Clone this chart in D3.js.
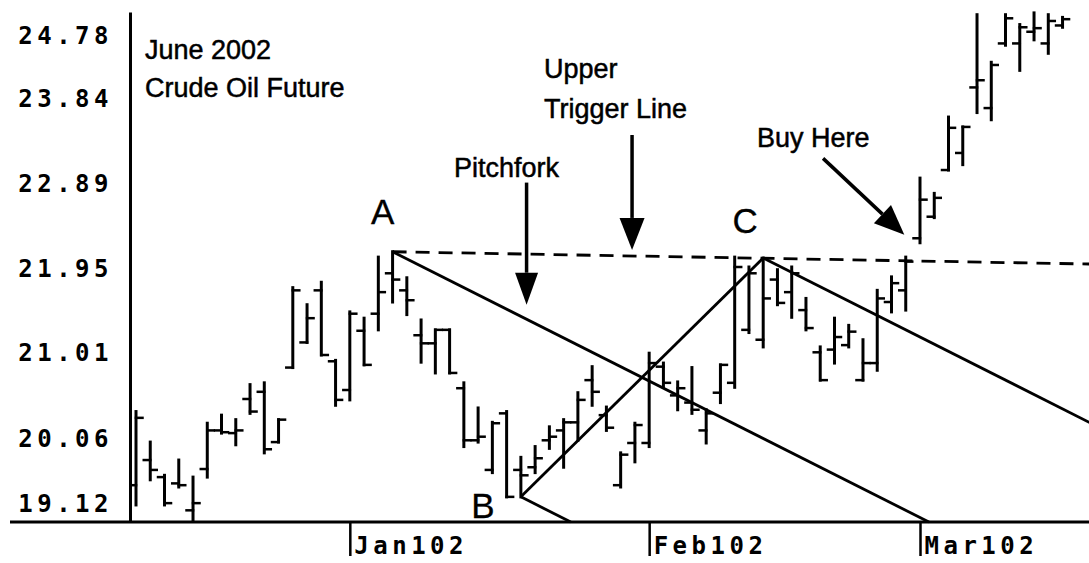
<!DOCTYPE html>
<html>
<head>
<meta charset="utf-8">
<script src="https://cdn.jsdelivr.net/npm/d3@7"></script>
<style>
  html, body { margin: 0; padding: 0; background: #fff; }
  svg { display: block; }
  .ann { font-family: "Liberation Sans", Arial, sans-serif; fill: #000; stroke: #000; stroke-width: 0.5px; }
  .axlbl { font-family: "DejaVu Sans Mono", monospace; font-weight: bold; font-size: 24px; letter-spacing: 4.5px; fill: #000; }
</style>
</head>
<body>
<svg id="chart" width="1089" height="563"></svg>
<script>
// ---- data (trading-day index 0 = 10 Dec 2001) ----
const opens  = [19.53,19.81,19.62,19.55,19.25,19.71,20.14,20.11,20.49,20.57,20.01,20.84,21.12,21.70,20.91,20.59,21.25,21.44,21.89,21.70,21.20,21.11,21.26,20.61,20.03,19.70,20.33,19.70,19.73,20.03,20.14,20.23,20.70,20.31,19.53,20.00,20.00,20.85,20.53,20.45,20.14,20.56,20.67,21.26,21.15,21.82,21.68,21.48,21.01,21.04,21.09,20.70,20.89,21.57,21.70,22.28,22.52,23.04,23.23,23.96,23.73,24.45,24.45,24.58,24.45,24.65];
const highs  = [20.35,20.01,19.64,19.81,19.62,20.22,20.31,20.26,20.65,20.67,20.26,21.73,21.54,21.79,20.92,21.46,21.39,22.07,22.13,21.84,21.37,21.26,21.26,20.67,20.39,20.23,20.35,19.84,19.96,20.18,20.26,20.56,20.85,20.40,19.89,20.22,21.00,20.89,20.68,20.84,20.37,20.87,22.07,21.96,22.06,21.93,21.96,21.61,21.07,21.39,21.31,21.15,21.70,21.85,22.07,22.95,22.78,23.63,23.52,24.77,24.24,24.77,24.66,24.79,24.77,24.74];
const lows   = [19.31,19.59,19.31,19.51,19.14,19.62,20.11,19.98,20.33,19.89,20.01,20.84,21.12,20.98,20.42,20.48,20.87,21.26,21.57,21.43,20.90,20.78,20.78,19.96,20.01,19.67,19.40,19.40,19.67,19.94,19.73,20.03,20.42,20.14,19.51,19.79,19.96,20.62,20.37,20.33,20.00,20.45,20.62,21.23,21.07,21.54,21.40,21.26,20.70,20.89,21.07,20.70,20.81,21.46,21.48,22.23,22.51,23.04,23.10,23.68,23.60,24.43,24.15,24.49,24.34,24.63];
const closes = [20.28,19.70,19.33,19.53,19.33,20.14,20.12,20.14,20.35,19.93,20.26,21.70,21.39,20.98,20.48,21.44,20.87,21.68,21.82,21.59,21.11,21.26,20.78,20.03,20.07,20.22,19.40,19.64,19.83,20.07,20.23,20.48,20.57,20.17,19.87,20.20,20.89,20.67,20.61,20.37,20.33,20.87,21.96,21.89,21.61,21.56,21.89,21.28,20.70,21.18,21.24,20.89,21.61,21.78,22.02,22.71,22.73,23.51,23.52,24.04,24.21,24.73,24.63,24.62,24.70,24.72];

const yTickValues = [19.12, 20.06, 21.01, 21.95, 22.89, 23.84, 24.78];
const monthTickIdx = [15, 36, 55];
const monthLabels = ["Jan102", "Feb102", "Mar102"];

// pitchfork pivots: [bar index, price]
const pivotA = [18, 22.13];
const pivotB = [27, 19.40];
const pivotC = [44, 22.06];
const pivotNames = ["A", "B", "C"];
// upper trigger line (from A to right edge)
const triggerLine = [[18, 22.13], [68, 21.99]];

// annotation arrows: [fromIdx, fromPrice, toIdx, toPrice]
const arrowPitchfork = [27.4, 22.90, 27.4, 21.54];
const arrowTrigger   = [34.8, 23.43, 34.8, 22.15];
const arrowBuy       = [48.2, 23.17, 53.9, 22.32];

// ---- layout ----
const W = 1089, H = 563;
const svg = d3.select("#chart");
svg.append("rect").attr("width", W).attr("height", H).attr("fill", "#fff");

const x = d3.scaleLinear().domain([0, 55]).range([136, 920]);
const y = d3.scaleLinear().domain([19.12, 24.80]).range([522, 12]);

const clipId = "plotclip";
svg.append("clipPath").attr("id", clipId).append("rect")
  .attr("x", 131).attr("y", 0).attr("width", W - 131).attr("height", 524);

const plot = svg.append("g").attr("clip-path", `url(#${clipId})`);

// ---- OHLC bars ----
const bars = d3.range(opens.length).map(i => ({i, o: opens[i], h: highs[i], l: lows[i], c: closes[i]}));
const tick = 6.5;
const bg = plot.append("g").attr("stroke", "#000").attr("stroke-width", 3).attr("stroke-linecap", "square");
bars.forEach(d => {
  const cx = x(d.i);
  bg.append("line").attr("x1", cx).attr("x2", cx).attr("y1", y(d.h)).attr("y2", y(d.l));
  bg.append("line").attr("x1", cx - tick).attr("x2", cx).attr("y1", y(d.o)).attr("y2", y(d.o)).attr("stroke-width", 2.5);
  bg.append("line").attr("x1", cx).attr("x2", cx + tick).attr("y1", y(d.c)).attr("y2", y(d.c)).attr("stroke-width", 2.5);
});

// ---- trigger line ----
plot.append("line")
  .attr("x1", x(triggerLine[0][0])).attr("y1", y(triggerLine[0][1]))
  .attr("x2", x(triggerLine[1][0])).attr("y2", y(triggerLine[1][1]))
  .attr("stroke", "#000").attr("stroke-width", 2.8).attr("stroke-dasharray", "14,9");

// ---- pitchfork ----
const mid = [(pivotB[0] + pivotC[0]) / 2, (pivotB[1] + pivotC[1]) / 2];
const slope = (mid[1] - pivotA[1]) / (mid[0] - pivotA[0]);
const floorP = y.domain()[0];
function extendTo(p0, endIdx) {
  let iEnd = endIdx;
  const pAtEnd = p0[1] + slope * (iEnd - p0[0]);
  if (pAtEnd < floorP) iEnd = p0[0] + (floorP - p0[1]) / slope;
  return [iEnd, p0[1] + slope * (iEnd - p0[0])];
}
const fork = [
  [pivotA, extendTo(pivotA, 80)],
  [pivotB, extendTo(pivotB, 80)],
  [pivotC, extendTo(pivotC, 80)],
  [pivotB, pivotC]
];
plot.append("g").selectAll("line").data(fork).join("line")
  .attr("x1", d => x(d[0][0])).attr("y1", d => y(d[0][1]))
  .attr("x2", d => x(d[1][0])).attr("y2", d => y(d[1][1]))
  .attr("stroke", "#000").attr("stroke-width", 2.8);

// ---- axes ----
const yAxis = d3.axisLeft(y).tickValues(yTickValues).tickSize(0).tickSizeOuter(0)
  .tickPadding(17).tickFormat(d3.format(".2f"));
const gy = svg.append("g").attr("transform", "translate(130,0)").call(yAxis);
gy.select(".domain").attr("stroke", "#000").attr("stroke-width", 3);
gy.selectAll("text").attr("class", "axlbl").attr("font-size", null).attr("font-family", null)
  .attr("dy", d => { const py = y(d); const cy = Math.max(35, Math.min(503, py)); return (cy - py + 8.5) + "px"; });

svg.append("line").attr("x1", 10).attr("x2", W).attr("y1", 522).attr("y2", 522)
  .attr("stroke", "#000").attr("stroke-width", 3);

const xAxis = d3.axisBottom(x).tickValues(monthTickIdx).tickSize(34).tickSizeOuter(0)
  .tickFormat((d, k) => monthLabels[k]);
const gx = svg.append("g").attr("transform", "translate(0,522)").call(xAxis);
gx.select(".domain").remove();
gx.selectAll(".tick line").attr("stroke", "#000").attr("stroke-width", 2.5);
gx.selectAll("text").attr("class", "axlbl").attr("font-size", null).attr("font-family", null)
  .attr("text-anchor", "start").attr("x", 4).attr("y", 32).attr("dy", null);

// ---- annotations ----
function arrow(a, headLen, headW) {
  const x1 = x(a[0]), y1 = y(a[1]), x2 = x(a[2]), y2 = y(a[3]);
  const ang = Math.atan2(y2 - y1, x2 - x1);
  const bx = x2 - headLen * Math.cos(ang), by = y2 - headLen * Math.sin(ang);
  const px = -Math.sin(ang) * headW / 2, py = Math.cos(ang) * headW / 2;
  svg.append("line").attr("x1", x1).attr("y1", y1).attr("x2", bx).attr("y2", by)
    .attr("stroke", "#000").attr("stroke-width", 3.5);
  svg.append("path").attr("d", `M${x2},${y2}L${bx + px},${by + py}L${bx - px},${by - py}Z`).attr("fill", "#000");
}
arrow(arrowPitchfork, 32, 23);
arrow(arrowTrigger, 32, 25);
arrow(arrowBuy, 30, 25);

const ann = svg.append("g").attr("class", "ann").attr("font-size", 27);
ann.append("text").attr("x", 145).attr("y", 59).text("June 2002");
ann.append("text").attr("x", 145).attr("y", 97).text("Crude Oil Future");
ann.append("text").attr("x", 544).attr("y", 78).text("Upper");
ann.append("text").attr("x", 544).attr("y", 118).text("Trigger Line");
ann.append("text").attr("x", 454).attr("y", 177).text("Pitchfork");
ann.append("text").attr("x", 757).attr("y", 147).text("Buy Here");

const pivLabelOffsets = [[-10, -28], [-38, 21], [-18, -25]];
[pivotA, pivotB, pivotC].forEach((p, k) => {
  ann.append("text").attr("x", x(p[0]) + pivLabelOffsets[k][0]).attr("y", y(p[1]) + pivLabelOffsets[k][1])
    .attr("text-anchor", "middle").attr("font-size", 35).attr("stroke-width", 0.3).text(pivotNames[k]);
});
</script>
</body>
</html>
